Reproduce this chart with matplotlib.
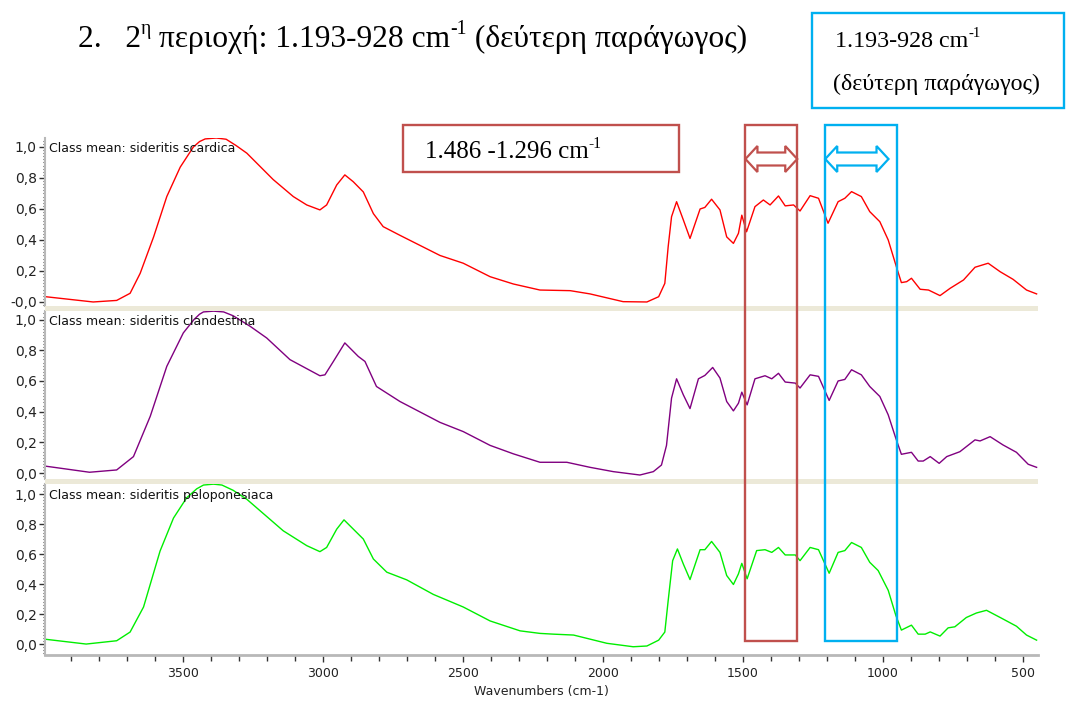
import numpy as np
import matplotlib
matplotlib.use("Agg")
import matplotlib.pyplot as plt
from matplotlib.patches import Rectangle, Polygon
from matplotlib.ticker import MultipleLocator, FixedLocator, FixedFormatter
from matplotlib.transforms import blended_transform_factory, IdentityTransform

# --- datos (numero de onda cm-1, absorbancia) ---
wn_scardica = [3995, 3820, 3736, 3688, 3652, 3604, 3557, 3509, 3462, 3440, 3420, 3380, 3345,
               3310, 3271, 3177, 3105, 3057, 3010, 2986, 2950, 2921, 2891, 2855, 2819, 2784,
               2724, 2581, 2498, 2402, 2319, 2224, 2116, 2045, 1927, 1842, 1800, 1778, 1766,
               1754, 1736, 1712, 1688, 1652, 1635, 1611, 1581, 1557, 1533, 1515, 1503,
               1486, 1456, 1426, 1402, 1372, 1348, 1318, 1295, 1259, 1229, 1195, 1159,
               1135, 1111, 1076, 1046, 1010, 980, 951, 933, 914, 897, 866, 836, 795,
               759, 711, 670, 623, 580, 534, 486, 450]
abs_scardica = [0.035, 0.0, 0.01, 0.056, 0.185, 0.42, 0.68, 0.87, 1.0, 1.035, 1.052, 1.058, 1.05,
                1.01, 0.96, 0.79, 0.68, 0.626, 0.594, 0.626, 0.755, 0.82, 0.776, 0.71, 0.57, 0.486,
                0.43, 0.30, 0.25, 0.163, 0.116, 0.077, 0.073, 0.052, 0.002, 0.0, 0.034, 0.12, 0.357,
                0.55, 0.647, 0.53, 0.41, 0.60, 0.61, 0.663, 0.594, 0.42, 0.378, 0.443, 0.56,
                0.453, 0.615, 0.658, 0.626, 0.684, 0.62, 0.626, 0.587, 0.686, 0.669, 0.508, 0.647,
                0.669, 0.712, 0.68, 0.583, 0.518, 0.40, 0.228, 0.125, 0.131, 0.153, 0.082, 0.077,
                0.041, 0.088, 0.142, 0.224, 0.25, 0.195, 0.146, 0.077, 0.052]

wn_clandestina = [3995, 3833, 3736, 3676, 3616, 3557, 3498, 3460, 3440, 3426, 3390, 3354,
                  3320, 3259, 3200, 3117, 3010, 2992, 2962, 2921, 2873, 2849, 2808, 2724,
                  2581, 2498, 2402, 2319, 2224, 2128, 2045, 1962, 1867, 1819, 1790, 1772,
                  1754, 1736, 1712, 1688, 1658, 1635, 1607, 1581, 1557, 1533, 1515, 1503,
                  1484, 1456, 1420, 1396, 1372, 1348, 1312, 1295, 1259, 1229, 1191, 1159,
                  1135, 1111, 1076, 1046, 1010, 980, 953, 933, 897, 873, 855, 830, 798, 771,
                  724, 670, 652, 616, 570, 522, 480, 450]
abs_clandestina = [0.046, 0.005, 0.02, 0.107, 0.37, 0.695, 0.913, 1.0, 1.035, 1.05, 1.055, 1.05,
                   1.025, 0.956, 0.88, 0.739, 0.634, 0.64, 0.727, 0.848, 0.76, 0.727, 0.564, 0.466,
                   0.33, 0.27, 0.18, 0.125, 0.07, 0.07, 0.037, 0.009, -0.013, 0.009, 0.052, 0.18,
                   0.488, 0.614, 0.51, 0.42, 0.614, 0.636, 0.688, 0.619, 0.466, 0.405, 0.455, 0.527,
                   0.444, 0.614, 0.634, 0.614, 0.65, 0.593, 0.586, 0.554, 0.64, 0.63, 0.473, 0.60,
                   0.61, 0.673, 0.64, 0.564, 0.499, 0.379, 0.227, 0.122, 0.135, 0.078, 0.078, 0.107,
                   0.063, 0.107, 0.139, 0.216, 0.209, 0.237, 0.183, 0.135, 0.057, 0.037]

wn_peloponesiaca = [3995, 3845, 3736, 3688, 3640, 3581, 3533, 3486, 3450, 3426, 3390, 3360,
                    3320, 3271, 3141, 3057, 3010, 2986, 2950, 2924, 2855, 2819, 2771, 2700,
                    2605, 2498, 2402, 2295, 2224, 2176, 2104, 1985, 1891, 1842, 1800, 1778,
                    1766, 1750, 1733, 1712, 1688, 1652, 1635, 1611, 1581, 1557, 1533, 1515,
                    1503, 1484, 1450, 1420, 1396, 1372, 1348, 1312, 1295, 1259, 1229, 1191,
                    1159, 1135, 1111, 1076, 1046, 1016, 980, 953, 933, 897, 873, 848, 830,
                    795, 766, 742, 701, 665, 629, 580, 522, 486, 450]
abs_peloponesiaca = [0.033, 0.0, 0.022, 0.08, 0.247, 0.62, 0.84, 0.975, 1.035, 1.06, 1.066, 1.06,
                     1.025, 0.965, 0.755, 0.656, 0.616, 0.644, 0.766, 0.828, 0.70, 0.567, 0.479, 0.428,
                     0.331, 0.247, 0.154, 0.088, 0.071, 0.066, 0.06, 0.005, -0.018, -0.013, 0.026, 0.08,
                     0.29, 0.556, 0.634, 0.534, 0.43, 0.629, 0.629, 0.684, 0.611, 0.457, 0.397, 0.468,
                     0.538, 0.435, 0.623, 0.629, 0.611, 0.644, 0.594, 0.594, 0.556, 0.644, 0.629, 0.472,
                     0.611, 0.623, 0.677, 0.644, 0.545, 0.49, 0.358, 0.192, 0.093, 0.126, 0.066, 0.066,
                     0.081, 0.053, 0.108, 0.115, 0.177, 0.207, 0.225, 0.177, 0.119, 0.06, 0.026]

nombres = ['Class mean: sideritis scardica', 'Class mean: sideritis clandestina',
           'Class mean: sideritis peloponesiaca']
colores = ['#ff0000', '#800080', '#00ee00']

x_ticks = [3500, 3000, 2500, 2000, 1500, 1000, 500]
y_ticks = [0.0, 0.2, 0.4, 0.6, 0.8, 1.0]
y_labels = ['0,0', '0,2', '0,4', '0,6', '0,8', '1,0']

# zonas marcadas (cm-1) y textos
caja_roja = [1490, 1305]
caja_azul = [1205, 949]
flecha_azul = [1205, 979]
texto_rojo = [('1.486 -1.296 cm', False), ('-1', True)]
texto_azul_1 = [('1.193-928 cm', False), ('-1', True)]
texto_azul_2 = [('(δεύτερη παράγωγος)', False)]
titulo = [('2.   2', False), ('η', True), (' περιοχή: 1.193-928 cm', False), ('-1', True),
          (' (δεύτερη παράγωγος)', False)]

W, H = 1067, 702
fig = plt.figure(figsize=(W / 100, H / 100), dpi=100)
renderer = fig.canvas.get_renderer()

def fx(px):
    return px / W

def fy(py):
    return 1 - py / H

def texto_sup(xpx, ybase, partes, size):
    # escribe un texto con superindices, pieza por pieza
    x = fx(xpx)
    for s, sup in partes:
        fs = size * 0.62 if sup else size
        dy = size * 0.40 / 72 * 100 / H if sup else 0
        t = fig.text(x, fy(ybase) + dy, s, fontsize=fs, family='Liberation Serif',
                     va='baseline', ha='left')
        x += t.get_window_extent(renderer=renderer).width / W

# paneles: (arriba, abajo) en pixeles, y limites en y
paneles = [(138, 306, -0.026, 1.058), (311, 479, -0.039, 1.056), (484, 655, -0.073, 1.067)]
datos = [(wn_scardica, abs_scardica), (wn_clandestina, abs_clandestina),
         (wn_peloponesiaca, abs_peloponesiaca)]

axes = []
for i, (top, bot, y0, y1) in enumerate(paneles):
    ax = fig.add_axes([fx(45), fy(bot), fx(1038) - fx(45), (bot - top) / H])
    wn, ab = datos[i]
    ax.plot(wn, ab, color=colores[i], lw=1.0)
    ax.set_xlim(3992, 445)
    ax.set_ylim(y0, y1)
    for s in ['top', 'right']:
        ax.spines[s].set_visible(False)
    ax.spines['left'].set_color('#b8b8b8')
    ax.spines['left'].set_linewidth(1.5)
    ax.yaxis.set_major_locator(FixedLocator(y_ticks))
    labs = list(y_labels)
    if i == 0:
        labs[0] = '-0,0'
    ax.yaxis.set_major_formatter(FixedFormatter(labs))
    ax.yaxis.set_minor_locator(MultipleLocator(0.02))
    ax.tick_params(axis='y', which='major', length=4, width=1, color='#333333',
                   labelsize=10, pad=2, labelcolor='#222222')
    ax.tick_params(axis='y', which='minor', length=1.5, width=0.8, color='#333333')
    ax.text(0.004, 0.935, nombres[i], transform=ax.transAxes, fontsize=9,
            va='center', ha='left', color='#111111')
    if i < 2:
        ax.spines['bottom'].set_visible(False)
        ax.set_xticks([])
    else:
        ax.spines['bottom'].set_color('#b8b8b8')
        ax.spines['bottom'].set_linewidth(2)
        ax.xaxis.set_major_locator(FixedLocator(x_ticks))
        ax.xaxis.set_minor_locator(MultipleLocator(100))
        ax.tick_params(axis='x', which='major', length=5, width=1, color='#333333',
                       labelsize=9, pad=3.5, labelcolor='#222222')
        ax.tick_params(axis='x', which='minor', length=4, width=1, color='#333333')
        ax.set_xlabel('Wavenumbers (cm-1)', fontsize=9, color='#222222', labelpad=4)
    axes.append(ax)

ax3 = axes[2]

# franjas separadoras
for top in [306, 479]:
    fig.add_artist(Rectangle((fx(45), fy(top + 5)), fx(1038) - fx(45), 5 / H,
                             transform=fig.transFigure, color='#ece9d8', lw=0))

# rectangulos de las zonas
blend = blended_transform_factory(ax3.transData, fig.transFigure)
for zona, col in [(caja_roja, '#c0504d'), (caja_azul, '#00b0f0')]:
    fig.add_artist(Rectangle((zona[0], fy(641)), zona[1] - zona[0], fy(125) - fy(641),
                             transform=blend, fill=False, ec=col, lw=1.7, clip_on=False))

def doble_flecha(x0, x1, ypx, col):
    a = ax3.transData.transform((x0, 0))[0]
    b = ax3.transData.transform((x1, 0))[0]
    l, r = min(a, b), max(a, b)
    yc = H - ypx
    hl, hh, sh = 12, 13, 6.5
    pts = [(l, yc), (l + hl, yc + hh), (l + hl, yc + sh), (r - hl, yc + sh),
           (r - hl, yc + hh), (r, yc), (r - hl, yc - hh), (r - hl, yc - sh),
           (l + hl, yc - sh), (l + hl, yc - hh)]
    fig.add_artist(Polygon(pts, closed=True, transform=IdentityTransform(),
                           fc='white', ec=col, lw=1.6))

doble_flecha(caja_roja[0], caja_roja[1], 159, '#c0504d')
doble_flecha(flecha_azul[0], flecha_azul[1], 159, '#00b0f0')

# caja de texto roja
fig.add_artist(Rectangle((fx(403), fy(172)), fx(679) - fx(403), fy(125) - fy(172),
                         transform=fig.transFigure, fill=False, ec='#c0504d', lw=1.7))
texto_sup(425, 158.5, texto_rojo, 18)

# caja de texto azul
fig.add_artist(Rectangle((fx(812), fy(108)), fx(1064) - fx(812), fy(13) - fy(108),
                         transform=fig.transFigure, fill=False, ec='#00b0f0', lw=1.7))
texto_sup(835, 47, texto_azul_1, 17.3)
texto_sup(833, 90, texto_azul_2, 17.3)

# titulo
texto_sup(78, 47, titulo, 22.7)

fig.savefig('out.png', dpi=100)
